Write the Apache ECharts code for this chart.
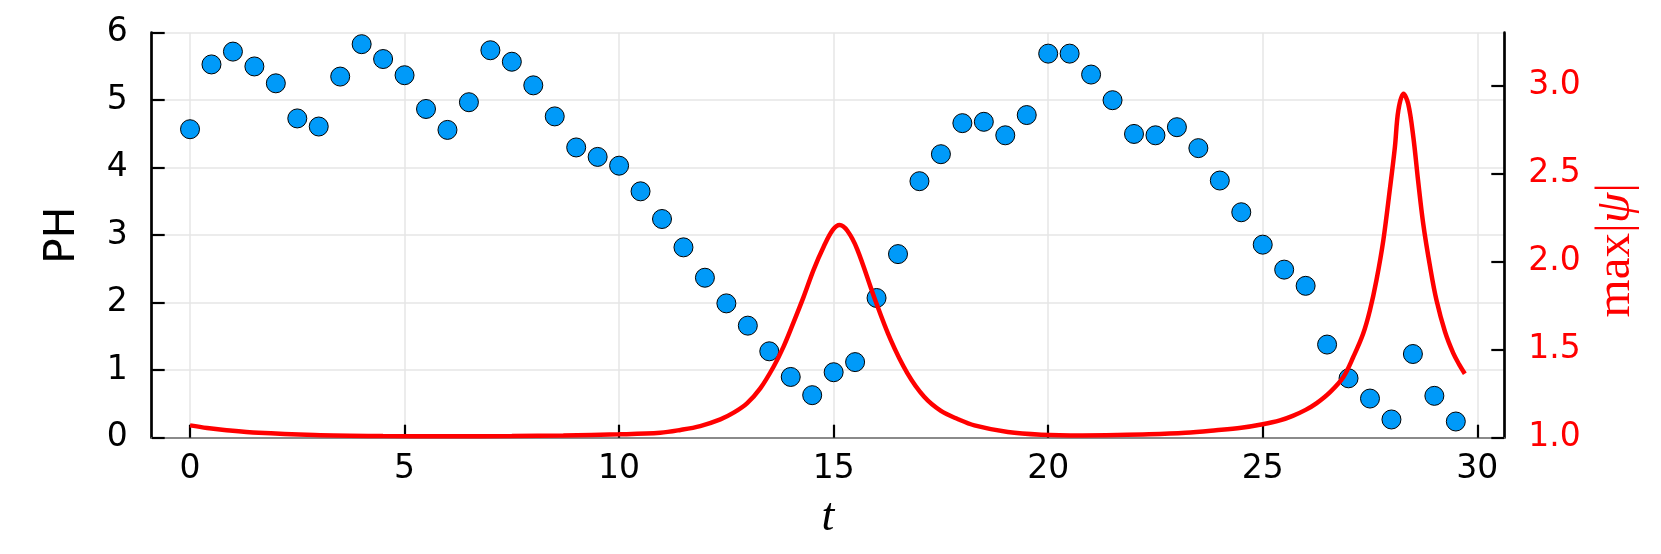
<!DOCTYPE html>
<html><head><meta charset="utf-8">
<script src="https://cdn.jsdelivr.net/npm/echarts@6/dist/echarts.min.js"></script>
<style>html,body{margin:0;padding:0;background:#fff}#c{width:1661px;height:554px}</style>
</head><body><div id="c"></div>
<script>
// Scatter data: PH vs t
const phT = [0,0.5,1,1.5,2,2.5,3,3.5,4,4.5,5,5.5,6,6.5,7,7.5,8,8.5,9,9.5,
  10,10.5,11,11.5,12,12.5,13,13.5,14,14.5,15,15.5,16,16.5,17,17.5,18,18.5,19,19.5,
  20,20.5,21,21.5,22,22.5,23,23.5,24,24.5,25,25.5,26,26.5,27,27.5,28,28.5,29,29.5];
const phValues = [4.57,5.53,5.72,5.50,5.25,4.73,4.61,5.35,5.83,5.61,5.37,4.87,4.56,4.97,5.74,5.57,5.22,4.76,4.30,4.16,
  4.03,3.65,3.24,2.82,2.37,1.99,1.66,1.28,0.90,0.63,0.97,1.12,2.07,2.72,3.80,4.20,4.66,4.68,4.48,4.78,
  5.69,5.69,5.38,5.00,4.50,4.48,4.60,4.29,3.81,3.34,2.86,2.49,2.25,1.38,0.88,0.58,0.27,1.24,0.62,0.24];
// Line data: max|psi| vs t (right axis)
const psiT = [0,0.4,0.8,1.6,2.9,4.5,6.0,7.5,8.7,10.0,10.96,11.43,11.89,12.36,12.67,12.98,13.29,13.60,13.83,14.07,
  14.30,14.53,14.77,14.98,15.14,15.32,15.55,15.94,16.33,16.72,17.11,17.5,17.9,18.28,19.06,19.84,20.8,21.6,22.35,23.2,
  23.91,24.5,25.0,25.4,25.7,26.0,26.25,26.57,26.88,27.11,27.34,27.5,27.65,27.81,27.96,28.08,28.16,28.28,28.39,28.51,
  28.62,28.74,28.9,29.05,29.25,29.44,29.58,29.71];
const psiMax = [1.070,1.055,1.044,1.028,1.016,1.010,1.008,1.010,1.013,1.019,1.028,1.044,1.066,1.104,1.142,1.195,1.280,1.403,1.516,1.658,
  1.800,1.952,2.086,2.180,2.208,2.175,2.070,1.801,1.555,1.365,1.232,1.152,1.105,1.070,1.032,1.017,1.013,1.015,1.019,1.028,
  1.042,1.056,1.076,1.098,1.124,1.158,1.195,1.259,1.345,1.458,1.590,1.725,1.894,2.120,2.405,2.650,2.858,2.953,2.896,2.707,
  2.462,2.216,1.971,1.780,1.600,1.480,1.415,1.363];
const xTicks = [0,5,10,15,20,25,30];
const leftTicks = [0,1,2,3,4,5,6];
const rightTicks = [1.0,1.5,2.0,2.5,3.0];

const chart = echarts.init(document.getElementById('c'), null, {renderer: 'canvas'});
const sans = 'DejaVu Sans';
const serif = 'Liberation Serif';
chart.setOption({
  animation: false,
  backgroundColor: '#ffffff',
  textStyle: {fontFamily: sans},
  grid: {left: 151.7, right: 156.7, top: 32.7, bottom: 116.3, containLabel: false, outerBoundsMode: 'none'},
  xAxis: {
    type: 'value', min: -0.893, max: 30.63,
    name: 't', nameLocation: 'middle', nameGap: 57,
    nameTextStyle: {fontFamily: serif, fontStyle: 'italic', fontSize: 46, color: '#000'},
    axisLine: {onZero: false, lineStyle: {color: '#8a8a8a', width: 2}},
    axisTick: {show: true, inside: true, length: 13, customValues: xTicks, lineStyle: {color: '#000', width: 2.2}},
    axisLabel: {customValues: xTicks, fontSize: 33, color: '#000', margin: 15, fontFamily: sans},
    splitLine: {show: true, lineStyle: {color: '#e6e6e6', width: 1.5}}
  },
  yAxis: [
    {
      type: 'value', position: 'left', min: 0, max: 6, interval: 1,
      name: 'PH', nameLocation: 'middle', nameGap: 68,
      nameTextStyle: {fontFamily: sans, fontSize: 42, color: '#000'},
      axisLine: {show: true, onZero: false, lineStyle: {color: '#000', width: 2.7}},
      axisTick: {show: true, inside: true, length: 13, customValues: leftTicks, lineStyle: {color: '#000', width: 2.2}},
      axisLabel: {customValues: leftTicks, fontSize: 33, color: '#000', margin: 24, fontFamily: sans},
      splitLine: {show: true, lineStyle: {color: '#e6e6e6', width: 1.5}}
    },
    {
      type: 'value', position: 'right', min: 1, max: 3.3, interval: 0.5,
      name: '{a|max}{b||}{c|ψ}{b||}', nameLocation: 'middle', nameGap: 86,
      nameTextStyle: {
        color: '#ff0000', fontSize: 49, fontFamily: serif, padding: [0, 30, 0, 0],
        rich: {
          a: {fontFamily: serif, fontSize: 49, color: '#ff0000'},
          b: {fontFamily: serif, fontSize: 49, color: '#ff0000'},
          c: {fontFamily: serif, fontSize: 49, fontStyle: 'italic', color: '#ff0000'}
        }
      },
      axisLine: {show: true, onZero: false, lineStyle: {color: '#000', width: 2.7}},
      axisTick: {show: true, inside: true, length: 13, customValues: rightTicks, lineStyle: {color: '#000', width: 2.2}},
      axisLabel: {customValues: rightTicks, fontSize: 33, color: '#ff0000', margin: 24, fontFamily: sans,
        formatter: v => Number(v).toFixed(1)},
      splitLine: {show: false}
    }
  ],
  series: [
    {
      type: 'scatter', yAxisIndex: 0, z: 2,
      data: phT.map((t, i) => [t, phValues[i]]),
      symbol: 'circle', symbolSize: 19,
      itemStyle: {color: '#009af9', borderColor: '#000', borderWidth: 1, opacity: 1}
    },
    {
      type: 'line', yAxisIndex: 1, z: 3,
      data: psiT.map((t, i) => [t, psiMax[i]]),
      showSymbol: false, symbol: 'none',
      smooth: 0.35,
      lineStyle: {color: '#ff0000', width: 4.5}
    }
  ]
});
</script>
</body></html>
